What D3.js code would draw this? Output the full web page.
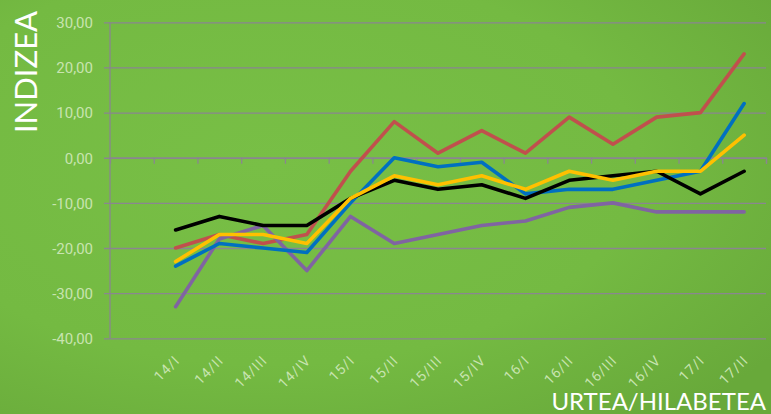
<!DOCTYPE html>
<html>
<head>
<meta charset="utf-8">
<script src="https://cdn.jsdelivr.net/npm/d3@7"></script>
<style>
  html, body { margin: 0; padding: 0; }
  body { width: 771px; height: 414px; overflow: hidden; }
  svg { display: block; }
</style>
</head>
<body>
<svg id="chart"></svg>
<script>
// quarters (first band is left empty like in the original sheet)
const periods = ['14/I', '14/II', '14/III', '14/IV', '15/I', '15/II', '15/III', '15/IV',
  '16/I', '16/II', '16/III', '16/IV', '17/I', '17/II'];

const redValues    = [-20, -17, -19, -17, -3, 8, 1, 6, 1, 9, 3, 9, 10, 23];
const purpleValues = [-33, -18, -15, -25, -13, -19, -17, -15, -14, -11, -10, -12, -12, -12];
const blueValues   = [-24, -19, -20, -21, -10, 0, -2, -1, -8, -7, -7, -5, -3, 12];
const blackValues  = [-16, -13, -15, -15, -9, -5, -7, -6, -9, -5, -4, -3, -8, -3];
const yellowValues = [-23, -17, -17, -19, -9, -4, -6, -4, -7, -3, -5, -3, -3, 5];

const yTicks = [-40, -30, -20, -10, 0, 10, 20, 30];

const series = [
  { name: 'red', color: '#c0504d', values: redValues },
  { name: 'purple', color: '#8064a2', values: purpleValues },
  { name: 'blue', color: '#0070c0', values: blueValues },
  { name: 'black', color: '#000000', values: blackValues },
  { name: 'yellow', color: '#ffc000', values: yellowValues }
];

const W = 771, H = 414;
const margin = { top: 22.3, right: 5, bottom: 75.7, left: 110 },
  width = W - margin.left - margin.right,
  height = H - margin.top - margin.bottom;

const gridColor = '#8a8690';
const labelColor = '#c8e4b0';

const locale = d3.formatLocale({ decimal: ',', thousands: '.', grouping: [3], currency: ['', ''], minus: '-' });
const fmt = locale.format('.2f');

const svg = d3.select('#chart').attr('width', W).attr('height', H);

// background
const defs = svg.append('defs');
const grad = defs.append('radialGradient')
  .attr('id', 'bg')
  .attr('cx', '35%').attr('cy', '40%').attr('r', '80%');
grad.append('stop').attr('offset', '0%').attr('stop-color', '#78bf46');
grad.append('stop').attr('offset', '60%').attr('stop-color', '#74ba42');
grad.append('stop').attr('offset', '100%').attr('stop-color', '#68a93a');
svg.append('rect').attr('width', W).attr('height', H).attr('fill', 'url(#bg)');

const g = svg.append('g')
  .attr('transform', 'translate(' + margin.left + ',' + margin.top + ')');

const xScale = d3.scaleBand()
  .domain([''].concat(periods))
  .range([0, width]);

const xIndex = d3.scaleLinear()
  .domain([0, periods.length + 1])
  .range([0, width]);

const yScale = d3.scaleLinear()
  .domain([-40, 30])
  .range([height, 0]);

// y gridlines + labels
g.append('g')
  .attr('class', 'y-axis')
  .attr('transform', 'translate(-6,0)')
  .call(d3.axisLeft(yScale)
    .tickValues(yTicks)
    .tickSize(-(width + 6))
    .tickPadding(11)
    .tickFormat(fmt))
  .call(a => a.select('.domain').remove())
  .call(a => a.selectAll('line').attr('stroke', gridColor).attr('stroke-width', 1.3))
  .call(a => a.selectAll('text')
    .attr('fill', labelColor)
    .attr('dy', '0.36em')
    .style('font-family', 'Roboto, sans-serif')
    .style('font-size', '15px'));

// vertical axis line
g.append('line')
  .attr('x1', 0).attr('x2', 0)
  .attr('y1', yScale(30)).attr('y2', yScale(-40))
  .attr('stroke', gridColor).attr('stroke-width', 1.3);

// horizontal axis at zero, ticks at band boundaries
g.append('g')
  .attr('class', 'x-axis')
  .attr('transform', 'translate(0,' + yScale(0) + ')')
  .call(d3.axisBottom(xIndex)
    .tickValues(d3.range(1, periods.length + 2))
    .tickSize(6)
    .tickFormat(''))
  .call(a => a.select('.domain').attr('stroke', gridColor).attr('stroke-width', 1.3))
  .call(a => a.selectAll('line').attr('stroke', gridColor).attr('stroke-width', 1.3));

// rotated category labels at the bottom
g.append('g')
  .attr('class', 'x-labels')
  .attr('transform', 'translate(0,' + height + ')')
  .call(d3.axisBottom(xScale).tickSize(0))
  .call(a => a.select('.domain').remove())
  .call(a => a.selectAll('text')
    .attr('x', 0).attr('y', 0).attr('dy', 0)
    .attr('text-anchor', 'end')
    .attr('transform', 'translate(5,23) rotate(-45)')
    .attr('fill', labelColor)
    .style('font-family', 'Roboto, sans-serif')
    .style('font-size', '14px')
    .style('letter-spacing', '1px'));

// lines
const line = d3.line()
  .x((d, i) => xScale(periods[i]) + xScale.bandwidth() / 2)
  .y(d => yScale(d));

g.selectAll('.series')
  .data(series)
  .enter()
  .append('path')
  .attr('class', 'series')
  .attr('d', d => line(d.values))
  .attr('fill', 'none')
  .attr('stroke', d => d.color)
  .attr('stroke-width', 3.6)
  .attr('stroke-linejoin', 'round')
  .attr('stroke-linecap', 'round');

// axis titles
svg.append('text')
  .attr('transform', 'translate(37,72) rotate(-90)')
  .attr('text-anchor', 'middle')
  .attr('fill', '#ffffff')
  .style('font-family', 'Lato, sans-serif')
  .style('font-size', '31px')
  .text('INDIZEA');

svg.append('text')
  .attr('x', 766)
  .attr('y', 410)
  .attr('text-anchor', 'end')
  .attr('fill', '#ffffff')
  .style('font-family', 'Lato, sans-serif')
  .style('font-size', '24px')
  .text('URTEA/HILABETEA');
</script>
</body>
</html>
